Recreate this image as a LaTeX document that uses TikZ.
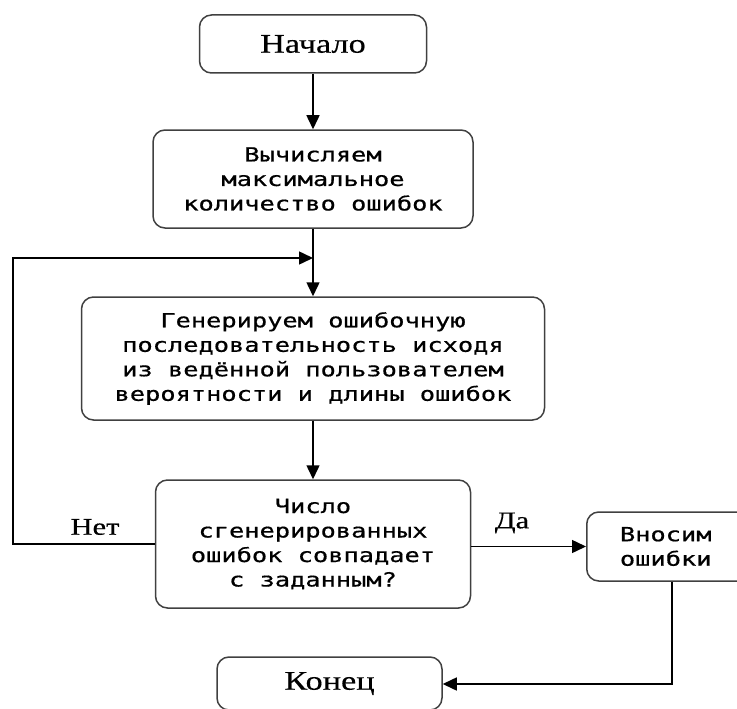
\documentclass[tikz,border=0pt]{standalone}
\usepackage{fontspec}
\setmainfont[FakeStretch=1.27,FakeBold=0.4]{Liberation Serif}
\newfontfamily\boxfont[FakeStretch=1.3,FakeBold=0.6]{DejaVu Sans Mono}
\usetikzlibrary{arrows.meta}
\begin{document}
\begin{tikzpicture}[x=1pt,y=-1pt,
  blk/.style={draw=black!75, line width=1.5pt, rounded corners=12pt, inner sep=0pt, align=center},
  btext/.style={font=\boxfont\fontsize{19.5}{24.5}\selectfont},
  stext/.style={font=\fontsize{27}{30}\selectfont},
  arr/.style={line width=1.5pt, -{Triangle[length=14pt,width=13pt]}},
  lbl/.style={font=\fontsize{24}{28}\selectfont, inner sep=0pt}]
\useasboundingbox (0,0) rectangle (737,709);
\node[blk, stext, minimum width=227pt, minimum height=58pt] (start) at (313,44) {Начало};
\node[blk, btext, minimum width=320pt, minimum height=98pt] (calc) at (313,179) {Вычисляем\\максимальное\\количество ошибок};
\node[blk, btext, minimum width=463pt, minimum height=123pt] (gen) at (313,358.5) {Генерируем ошибочную\\последовательность исходя\\из ведённой пользователем\\вероятности и длины ошибок};
\node[blk, btext, minimum width=315pt, minimum height=128pt] (dec) at (313,544) {Число\\сгенерированных\\ошибок совпадает\\с заданным?};
\node[blk, btext, minimum width=164pt, minimum height=69pt, anchor=west] (ins) at (586,546.5) {\hspace*{-6pt}Вносим\\\hspace*{-6pt}ошибки};
\node[blk, stext, minimum width=225pt, minimum height=53pt] (end) at (329.5,683.5) {Конец};
\coordinate (lj) at (313,258);
\coordinate (lc) at (13,258);
\coordinate (ec) at (672,684);
\node[lbl] (no) at (95,527) {Нет};
\node[lbl] (yes) at (512,523) {Да};
\draw[arr] (start.south) -- (calc.north);
\draw[arr] (calc.south) -- (gen.north);
\draw[arr] (gen.south) -- (dec.north);
\draw[arr] (dec.west) -| (lc) -- (lj);
\draw[arr] (ins.west -| dec.east) -- (ins.west);
\draw[arr] (ins.south -| ec) -- (ec) -- (ec -| end.east);
\end{tikzpicture}
\end{document}
